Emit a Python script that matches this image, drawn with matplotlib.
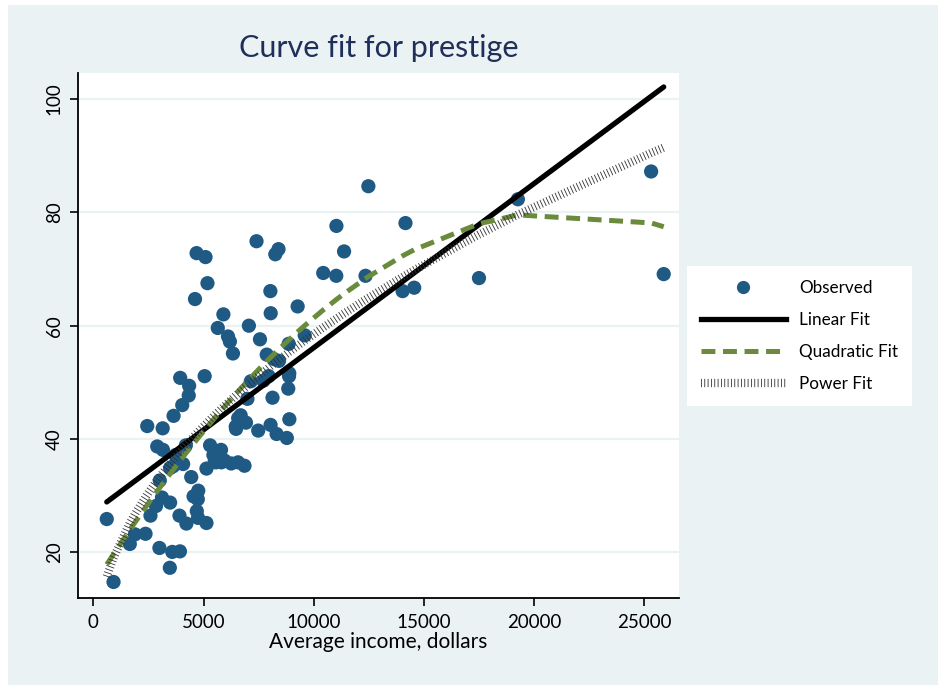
import numpy as np
import matplotlib
matplotlib.use("Agg")
import matplotlib.pyplot as plt
from matplotlib.lines import Line2D
from matplotlib.patches import Rectangle

# Prestige data: average income (dollars) and prestige score
income = [12351, 25879, 9271, 8865, 8403, 11030, 8258, 14163, 11377, 11023,
          5902, 7059, 8425, 8049, 7405, 6336, 19263, 6112, 9593, 4686,
          12480, 5648, 8034, 25308, 14558, 17498, 4614, 3485, 5092, 10432,
          5180, 6197, 7562, 8206, 4036, 3148, 4348, 2448, 4330, 4761,
          3016, 2901, 5511, 3739, 3161, 4741, 5052, 6259, 4075, 7482,
          8780, 2594, 918, 2370, 8131, 6992, 7956, 8895, 8891, 3116,
          3930, 7869, 611, 3000, 3472, 3582, 3643, 1656, 6860, 4199,
          5134, 5134, 1890, 4443, 3485, 8043, 6686, 6565, 6477, 5811,
          6573, 3942, 5449, 2847, 5795, 7716, 4696, 8316, 7147, 8880,
          5299, 5959, 4549, 6928, 3910, 14032, 8845, 5562, 4224, 4753,
          6462, 3617]
prestige = [68.8, 69.1, 63.4, 56.8, 73.5, 77.6, 72.6, 78.1, 73.1, 68.8,
            62.0, 60.0, 53.8, 62.2, 74.9, 55.1, 82.3, 58.1, 58.3, 72.8,
            84.6, 59.6, 66.1, 87.2, 66.7, 68.4, 64.7, 34.9, 72.1, 69.3,
            67.5, 57.2, 57.6, 54.1, 46.0, 41.9, 49.4, 42.3, 47.7, 30.9,
            32.7, 38.7, 36.1, 37.2, 38.1, 29.4, 51.1, 35.7, 35.6, 41.5,
            40.2, 26.5, 14.8, 23.3, 47.3, 47.1, 51.1, 43.5, 51.6, 29.7,
            20.2, 54.9, 25.9, 20.8, 17.3, 20.1, 44.1, 21.5, 35.3, 38.9,
            25.2, 34.8, 23.2, 33.3, 28.8, 42.5, 44.2, 35.9, 41.8, 35.9,
            43.7, 50.8, 37.2, 28.2, 38.1, 50.3, 27.3, 40.9, 50.2, 51.1,
            38.9, 36.2, 29.9, 42.9, 26.5, 66.1, 48.9, 35.9, 25.1, 26.1,
            42.2, 35.2]
x_ticks = [0, 5000, 10000, 15000, 20000, 25000]
y_ticks = [20, 40, 60, 80, 100]
series_labels = ["Observed", "Linear Fit", "Quadratic Fit", "Power Fit"]

x = np.array(income, dtype=float)
y = np.array(prestige, dtype=float)
order = np.argsort(x, kind="stable")
xs = x[order]

lin = np.polyval(np.polyfit(x, y, 1), xs)
quad = np.polyval(np.polyfit(x, y, 2), xs)

# power fit y = a * x^b by nonlinear least squares (Gauss-Newton)
b, la = np.polyfit(np.log(x), np.log(y), 1)
a = np.exp(la)
for _ in range(100):
    f = a * x**b
    J = np.column_stack([x**b, a * x**b * np.log(x)])
    step, *_ = np.linalg.lstsq(J, y - f, rcond=None)
    a += step[0]
    b += step[1]
pw = a * xs**b

BG = "#EAF2F3"
MARK = "#1F5A85"
GREEN = "#6A8A3C"
HATCH = "#333333"
FONT = ["Lato", "DejaVu Sans"]
plt.rcParams["font.family"] = FONT
plt.rcParams["lines.scale_dashes"] = False

fig = plt.figure(figsize=(9.38, 6.85), dpi=100)
fig.patch.set_facecolor("white")
fig.patches.append(Rectangle((8/938, 0), 1, 1 - 5/685, transform=fig.transFigure,
                             facecolor=BG, edgecolor="none", zorder=-10))

ax = fig.add_axes([78/938, 1-598.3/685, (679-78)/938, (598.3-73)/685])
ax.set_facecolor("white")
ax.set_xlim(-694, 26573)
ax.set_ylim(11.92, 104.57)

for v in y_ticks:
    ax.axhline(v, color=BG, lw=1.6, zorder=0)

ax.scatter(x, y, s=105, color=MARK, edgecolors="none", zorder=2)
ax.plot(xs, lin, color="black", lw=3.8, solid_capstyle="round", zorder=3)
ax.plot(xs, quad, color=GREEN, lw=3.6, dashes=(10, 5.5), zorder=4)
ax.plot(xs, pw, color=HATCH, lw=6.0, dashes=(0.6, 1.8), dash_capstyle="butt", zorder=5)

ax.set_xticks(x_ticks)
ax.set_xticklabels([str(t) for t in x_ticks])
ax.set_yticks(y_ticks)
ax.set_yticklabels([str(t) for t in y_ticks], rotation=90, va="center")
ax.tick_params(axis="both", direction="out", length=6, width=1.2, labelsize=13.5, colors="black")
ax.tick_params(axis="x", pad=5)
ax.tick_params(axis="y", pad=5)
for s in ["top", "right"]:
    ax.spines[s].set_visible(False)
for s in ["left", "bottom"]:
    ax.spines[s].set_linewidth(1.3)
ax.set_xlabel("Average income, dollars", fontsize=15, labelpad=1)

fig.text(379/938, 1-48/685, "Curve fit for prestige", ha="center", va="center",
         fontsize=22, color="#1F2F5A")

handles = [Line2D([], [], marker="o", ls="none", markersize=9.5, color=MARK, markeredgewidth=0),
           Line2D([], [], color="black", lw=3.8),
           Line2D([], [], color=GREEN, lw=3.6, dashes=(10, 5.5)),
           Line2D([], [], color=HATCH, lw=6.0, dashes=(0.6, 1.8))]
leg = fig.legend(handles, series_labels, loc="upper left",
                 bbox_to_anchor=(687/938, 1-266/685), frameon=True, fontsize=12.3,
                 handlelength=5.0, handletextpad=0.75, labelspacing=0.95, borderpad=0.8,
                 borderaxespad=0, fancybox=False)
leg.get_frame().set_facecolor("white")
leg.get_frame().set_edgecolor("none")
leg.get_frame().set_alpha(1)

fig.savefig("out.png", dpi=100, facecolor=fig.get_facecolor())
